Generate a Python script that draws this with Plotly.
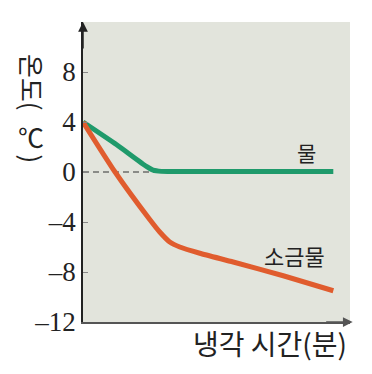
import plotly.graph_objects as go

# data
water_x = [0, 1.0, 1.9, 2.1, 2.35, 3.0, 5.0, 7.5]
water_y = [4, 2.2, 0.45, 0.15, 0.05, 0.05, 0.05, 0.05]
salt_x = [0, 0.96, 2.0, 2.3, 2.6, 2.9, 3.5, 4.5, 6.0, 7.5]
salt_y = [4, 0, -3.8, -4.8, -5.6, -6.0, -6.5, -7.2, -8.3, -9.5]
zero_x = [0, 2.6]
zero_y = [0, 0]
ytick_vals = [-12, -8, -4, 0, 4, 8]
ytick_text = ["–12", "–8", "–4", "0", "4", "8"]
series_names = ["물", "소금물"]
x_title = "냉각 시간(분)"
y_title_parts = ["온도(", "℃", ")"]

GREEN = "#1f9a6b"
ORANGE = "#e05c2e"
BG = "#e2e4dc"
KFONT = "Noto Sans CJK KR"
SERIF = "'Liberation Serif', 'DejaVu Serif', serif"

fig = go.Figure()
fig.add_trace(go.Scatter(x=zero_x, y=zero_y, mode="lines",
                         line=dict(color="#333", width=1, dash="6px,4px"),
                         hoverinfo="skip", showlegend=False))
fig.add_trace(go.Scatter(x=water_x, y=water_y, mode="lines", name=series_names[0],
                         line=dict(color=GREEN, width=5, shape="spline", smoothing=0.5),
                         showlegend=False))
fig.add_trace(go.Scatter(x=salt_x, y=salt_y, mode="lines", name=series_names[1],
                         line=dict(color=ORANGE, width=5, shape="spline", smoothing=0.5),
                         showlegend=False))

ytf = dict(family=KFONT, size=26, color="#222")
fig.update_layout(
    width=364, height=366,
    margin=dict(l=75, r=22, t=14, b=52),
    paper_bgcolor="white",
    plot_bgcolor=BG,
    font=dict(family=SERIF),
    xaxis=dict(range=[0, 8], showgrid=False, zeroline=False, showticklabels=False,
               ticks="", showline=True, linecolor="#555", linewidth=1.5),
    yaxis=dict(range=[-12, 12], showgrid=False, zeroline=False,
               tickvals=ytick_vals, ticktext=ytick_text,
               ticks="inside", ticklen=5, tickcolor="#888", tickwidth=1,
               tickfont=dict(family=SERIF, size=27, color="#222"),
               showline=True, linecolor="#222", linewidth=1.5),
    annotations=[
        dict(xref="paper", yref="paper", x=0, y=1.0, ax=0, ay=28,
             showarrow=True, arrowhead=2, arrowsize=1.3, arrowwidth=1.5, arrowcolor="#222", text=""),
        dict(xref="paper", yref="paper", x=1.01, y=0, ax=-28, ay=0,
             showarrow=True, arrowhead=2, arrowsize=1.3, arrowwidth=1.5, arrowcolor="#555", text=""),
        dict(xref="x", yref="y", x=6.7, y=1.6, text=series_names[0], showarrow=False,
             font=dict(family=KFONT, size=21, color="#222")),
        dict(xref="x", yref="y", x=6.35, y=-6.64, text=series_names[1], showarrow=False,
             font=dict(family=KFONT, size=22, color="#222")),
        dict(xref="paper", yref="paper", x=0.995, y=-0.07, xanchor="right", yanchor="middle",
             text=x_title, showarrow=False, font=dict(family=KFONT, size=28, color="#222")),
        dict(xref="paper", yref="paper", x=-0.191, y=0.80, xanchor="center", yanchor="middle",
             text=y_title_parts[0], textangle=90, showarrow=False, font=ytf),
        dict(xref="paper", yref="paper", x=-0.194, y=0.62, xanchor="center", yanchor="middle",
             text=y_title_parts[1], showarrow=False, font=ytf),
        dict(xref="paper", yref="paper", x=-0.191, y=0.545, xanchor="center", yanchor="middle",
             text=y_title_parts[2], textangle=90, showarrow=False, font=ytf),
    ],
)

fig.write_html("out.html")
